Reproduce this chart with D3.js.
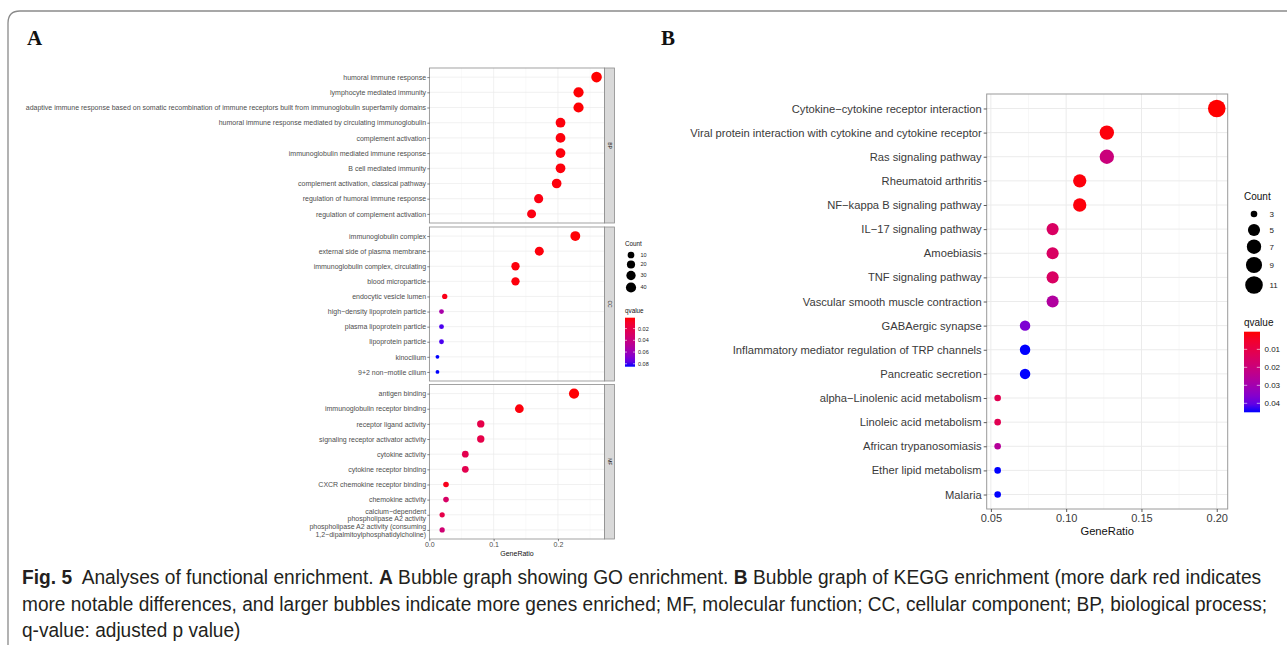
<!DOCTYPE html>
<html>
<head>
<meta charset="utf-8">
<script src="https://cdn.jsdelivr.net/npm/d3@7"></script>
<style>
  body { margin: 0; background: #fff; }
  svg { display: block; }
</style>
</head>
<body>
<svg id="fig" width="1287" height="645"></svg>
<script>
"use strict";

// ---- panel A: GO enrichment, one block per ontology ----
let bp_terms = ["humoral immune response", "lymphocyte mediated immunity",
  "adaptive immune response based on somatic recombination of immune receptors built from immunoglobulin superfamily domains",
  "humoral immune response mediated by circulating immunoglobulin", "complement activation",
  "immunoglobulin mediated immune response", "B cell mediated immunity",
  "complement activation, classical pathway", "regulation of humoral immune response",
  "regulation of complement activation"];
let bp_ratio = [0.260, 0.232, 0.232, 0.204, 0.204, 0.204, 0.204, 0.198, 0.170, 0.159];
let bp_count = [45, 40, 40, 35, 35, 35, 35, 34, 29, 27];
let bp_qvalue = [0.0014, 0.002, 0.002, 0.003, 0.003, 0.003, 0.003, 0.003, 0.004, 0.004];

let cc_terms = ["immunoglobulin complex", "external side of plasma membrane",
  "immunoglobulin complex, circulating", "blood microparticle", "endocytic vesicle lumen",
  "high−density lipoprotein particle", "plasma lipoprotein particle", "lipoprotein particle",
  "kinocilium", "9+2 non−motile cilium"];
let cc_ratio = [0.227, 0.171, 0.134, 0.134, 0.024, 0.019, 0.019, 0.019, 0.0127, 0.0127];
let cc_count = [36, 27, 21, 21, 4, 3, 3, 3, 2, 2];
let cc_qvalue = [0.002, 0.003, 0.003, 0.003, 0.005, 0.055, 0.08, 0.08, 0.085, 0.085];

let mf_terms = ["antigen binding", "immunoglobulin receptor binding", "receptor ligand activity",
  "signaling receptor activator activity", "cytokine activity", "cytokine receptor binding",
  "CXCR chemokine receptor binding", "chemokine activity",
  "calcium−dependent\nphospholipase A2 activity",
  "phospholipase A2 activity (consuming\n1,2−dipalmitoylphosphatidylcholine)"];
let mf_ratio = [0.225, 0.140, 0.080, 0.080, 0.056, 0.056, 0.026, 0.026, 0.020, 0.020];
let mf_count = [40, 25, 14, 14, 10, 10, 5, 5, 4, 4];
let mf_qvalue = [0.002, 0.003, 0.02, 0.02, 0.022, 0.022, 0.006, 0.03, 0.02, 0.035];

let go_count_breaks = [10, 20, 30, 40];
let go_q_breaks = [0.02, 0.04, 0.06, 0.08];
let go_x_ticks = [0, 0.1, 0.2];

// ---- panel B: KEGG enrichment ----
let kegg_terms = ["Cytokine−cytokine receptor interaction",
  "Viral protein interaction with cytokine and cytokine receptor", "Ras signaling pathway",
  "Rheumatoid arthritis", "NF−kappa B signaling pathway", "IL−17 signaling pathway",
  "Amoebiasis", "TNF signaling pathway", "Vascular smooth muscle contraction",
  "GABAergic synapse", "Inflammatory mediator regulation of TRP channels",
  "Pancreatic secretion", "alpha−Linolenic acid metabolism", "Linoleic acid metabolism",
  "African trypanosomiasis", "Ether lipid metabolism", "Malaria"];
let kegg_ratio = [0.200, 0.127, 0.127, 0.109, 0.109, 0.091, 0.091, 0.091, 0.091,
  0.0727, 0.0727, 0.0727, 0.0545, 0.0545, 0.0545, 0.0545, 0.0545];
let kegg_count = [11, 7, 7, 6, 6, 5, 5, 5, 5, 4, 4, 4, 3, 3, 3, 3, 3];
let kegg_qvalue = [0.0002, 0.001, 0.02, 0.001, 0.001, 0.015, 0.015, 0.015, 0.027,
  0.037, 0.045, 0.045, 0.012, 0.012, 0.026, 0.045, 0.045];

let kegg_count_breaks = [3, 5, 7, 9, 11];
let kegg_q_breaks = [0.01, 0.02, 0.03, 0.04];
let kegg_x_ticks = [0.05, 0.10, 0.15, 0.20];

// caption lines, [text, bold]
let caption_lines = [
  [["Fig. 5", true], ["  Analyses of functional enrichment. ", false], ["A", true],
   [" Bubble graph showing GO enrichment. ", false], ["B", true],
   [" Bubble graph of KEGG enrichment (more dark red indicates", false]],
  [["more notable differences, and larger bubbles indicate more genes enriched; MF, molecular function; CC, cellular component; BP, biological process;", false]],
  [["q-value: adjusted p value)", false]]
];

let svg = d3.select("#fig");
let sans = "'Liberation Sans', Arial, sans-serif";
let axis_text = "#4d4d4d";

// outer frame with rounded top-left corner
svg.append("path")
  .attr("d", "M8,700 L8,23 Q8,11 20,11 L1300,11")
  .attr("fill", "none").attr("stroke", "#8a8a8a").attr("stroke-width", 1.3);

svg.append("text").attr("x", 27).attr("y", 45).text("A")
  .attr("font-family", "'Liberation Serif', 'Times New Roman', serif")
  .attr("font-weight", "bold").attr("font-size", 21).attr("fill", "#111");
svg.append("text").attr("x", 661).attr("y", 45).text("B")
  .attr("font-family", "'Liberation Serif', 'Times New Roman', serif")
  .attr("font-weight", "bold").attr("font-size", 21).attr("fill", "#111");

// ggplot style sizes: area mapped onto a radius range
function size_scale(counts, r_min, r_max) {
  let lo = d3.min(counts), hi = d3.max(counts);
  let s = d3.scaleLinear().domain([0, 1]).range([r_min, r_max]);
  return c => s(Math.sqrt((c - lo) / (hi - lo)));
}

function expand(vals) {
  let lo = d3.min(vals), hi = d3.max(vals), p = (hi - lo) * 0.05;
  return [lo - p, hi + p];
}

function draw_legend(g, opts) {
  // Count
  g.append("text").attr("x", opts.x).attr("y", opts.count_title_y).text("Count")
    .attr("font-family", sans).attr("font-size", opts.title_size).attr("fill", "#111");
  opts.count_breaks.forEach((c, i) => {
    let cy = opts.count_y[i];
    g.append("circle").attr("cx", opts.circle_x).attr("cy", cy).attr("r", opts.size(c)).attr("fill", "#000");
    g.append("text").attr("x", opts.label_x).attr("y", cy).attr("dy", "0.35em").text(c)
      .attr("font-family", sans).attr("font-size", opts.label_size).attr("fill", "#222");
  });
  // qvalue colourbar
  g.append("text").attr("x", opts.x).attr("y", opts.q_title_y).text("qvalue")
    .attr("font-family", sans).attr("font-size", opts.title_size).attr("fill", "#111");
  let grad = svg.append("defs").append("linearGradient").attr("id", opts.id)
    .attr("x1", 0).attr("y1", 0).attr("x2", 0).attr("y2", 1);
  d3.range(0, 1.0001, 0.1).forEach(t => {
    let dom = opts.color.domain();
    grad.append("stop").attr("offset", t).attr("stop-color", opts.color(dom[0] + t * (dom[1] - dom[0])));
  });
  let bar_y = d3.scaleLinear().domain(opts.color.domain()).range([opts.bar_top, opts.bar_bottom]);
  g.append("rect").attr("x", opts.x).attr("y", opts.bar_top).attr("width", opts.bar_w)
    .attr("height", opts.bar_bottom - opts.bar_top).attr("fill", "url(#" + opts.id + ")");
  opts.q_breaks.forEach(q => {
    let y = bar_y(q);
    let tl = opts.bar_w / 5;
    g.append("line").attr("x1", opts.x).attr("x2", opts.x + tl).attr("y1", y).attr("y2", y)
      .attr("stroke", "#fff").attr("stroke-width", 0.6);
    g.append("line").attr("x1", opts.x + opts.bar_w - tl).attr("x2", opts.x + opts.bar_w).attr("y1", y).attr("y2", y)
      .attr("stroke", "#fff").attr("stroke-width", 0.6);
    g.append("text").attr("x", opts.x + opts.bar_w + opts.label_gap).attr("y", y).attr("dy", "0.35em")
      .text(opts.q_format(q)).attr("font-family", sans).attr("font-size", opts.label_size).attr("fill", "#222");
  });
}

// ================= panel A =================
let go_panels = [
  { name: "BP", terms: bp_terms, ratio: bp_ratio, count: bp_count, q: bp_qvalue, top: 68, bottom: 223 },
  { name: "CC", terms: cc_terms, ratio: cc_ratio, count: cc_count, q: cc_qvalue, top: 227, bottom: 381 },
  { name: "MF", terms: mf_terms, ratio: mf_ratio, count: mf_count, q: mf_qvalue, top: 384.5, bottom: 539 }
];
let a_left = 429.5, a_right = 604.5, strip_w = 10;
let all_go_ratio = bp_ratio.concat(cc_ratio, mf_ratio);
let all_go_count = bp_count.concat(cc_count, mf_count);
let all_go_q = bp_qvalue.concat(cc_qvalue, mf_qvalue);

let xA = d3.scaleLinear().domain(expand(all_go_ratio)).range([a_left, a_right]);
let rA = size_scale(all_go_count, 1.9, 5.3);
let colA = d3.scaleLinear().domain(d3.extent(all_go_q)).range(["red", "blue"]).interpolate(d3.interpolateLab);

let gA = svg.append("g");
let minorA = [0.05, 0.15, 0.25];

go_panels.forEach(p => {
  let y = d3.scalePoint().domain(p.terms).range([p.top, p.bottom]).padding(0.6);
  let g = gA.append("g");
  g.append("rect").attr("x", a_left).attr("y", p.top).attr("width", a_right - a_left)
    .attr("height", p.bottom - p.top).attr("fill", "#fff");
  minorA.forEach(v => g.append("line").attr("x1", xA(v)).attr("x2", xA(v)).attr("y1", p.top).attr("y2", p.bottom)
    .attr("stroke", "#f2f2f2").attr("stroke-width", 0.4));
  go_x_ticks.forEach(v => g.append("line").attr("x1", xA(v)).attr("x2", xA(v)).attr("y1", p.top).attr("y2", p.bottom)
    .attr("stroke", "#ebebeb").attr("stroke-width", 0.7));
  p.terms.forEach(t => g.append("line").attr("x1", a_left).attr("x2", a_right).attr("y1", y(t)).attr("y2", y(t))
    .attr("stroke", "#ebebeb").attr("stroke-width", 0.7));

  g.selectAll("circle.pt").data(p.terms).join("circle").attr("class", "pt")
    .attr("cx", (t, i) => xA(p.ratio[i])).attr("cy", t => y(t))
    .attr("r", (t, i) => rA(p.count[i])).attr("fill", (t, i) => colA(p.q[i]));

  g.append("rect").attr("x", a_left).attr("y", p.top).attr("width", a_right - a_left)
    .attr("height", p.bottom - p.top).attr("fill", "none").attr("stroke", "#8c8c8c").attr("stroke-width", 0.8);
  // facet strip
  g.append("rect").attr("x", a_right).attr("y", p.top).attr("width", strip_w)
    .attr("height", p.bottom - p.top).attr("fill", "#d9d9d9").attr("stroke", "#8c8c8c").attr("stroke-width", 0.8);
  g.append("text").attr("transform", "translate(" + (a_right + strip_w / 2) + "," + ((p.top + p.bottom) / 2) + ") rotate(90)")
    .attr("text-anchor", "middle").attr("dy", "0.35em").text(p.name)
    .attr("font-family", sans).attr("font-size", 5).attr("fill", "#1a1a1a");

  // y axis with ticks and (possibly two-line) labels
  let ax = g.append("g").attr("transform", "translate(" + a_left + ",0)")
    .call(d3.axisLeft(y).tickSize(2.2).tickPadding(1.2));
  ax.select(".domain").remove();
  ax.selectAll(".tick line").attr("stroke", "#333").attr("stroke-width", 0.6);
  ax.selectAll(".tick text").attr("font-family", sans).attr("font-size", 7).attr("fill", axis_text)
    .each(function (t) {
      let lines = t.split("\n");
      if (lines.length > 1) {
        let el = d3.select(this).text(null).attr("dy", null);
        lines.forEach((ln, k) => el.append("tspan").attr("x", -3.4)
          .attr("y", (k - (lines.length - 1) / 2) * 7.5).attr("dy", "0.35em").text(ln));
      }
    });
});

// x axis under the MF facet
let axA = gA.append("g").attr("transform", "translate(0," + go_panels[2].bottom + ")")
  .call(d3.axisBottom(xA).tickValues(go_x_ticks).tickFormat(d3.format(".1f")).tickSize(2.2).tickPadding(1.2));
axA.select(".domain").remove();
axA.selectAll(".tick line").attr("stroke", "#333").attr("stroke-width", 0.6);
axA.selectAll(".tick text").attr("font-family", sans).attr("font-size", 7).attr("fill", axis_text);
gA.append("text").attr("x", (a_left + a_right) / 2).attr("y", 556).attr("text-anchor", "middle")
  .text("GeneRatio").attr("font-family", sans).attr("font-size", 7).attr("fill", "#111");

draw_legend(gA, {
  id: "gradA", x: 625, count_title_y: 246, title_size: 6.3, label_size: 5.5,
  count_breaks: go_count_breaks, count_y: [255, 264.5, 275.5, 287.5], circle_x: 631, label_x: 640.5, size: rA,
  q_title_y: 312.5, color: colA, bar_top: 317.7, bar_bottom: 366.7, bar_w: 10, label_gap: 3,
  q_breaks: go_q_breaks, q_format: d3.format(".2f")
});

// ================= panel B =================
let b_left = 986.7, b_right = 1227.7, b_top = 94, b_bottom = 509;
let xB = d3.scaleLinear().domain(expand(kegg_ratio)).range([b_left, b_right]);
let yB = d3.scalePoint().domain(kegg_terms).range([b_top, b_bottom]).padding(0.6);
let rB = size_scale(kegg_count, 3.3, 8.8);
let colB = d3.scaleLinear().domain(d3.extent(kegg_qvalue)).range(["red", "blue"]).interpolate(d3.interpolateLab);

let gB = svg.append("g");
gB.append("rect").attr("x", b_left).attr("y", b_top).attr("width", b_right - b_left)
  .attr("height", b_bottom - b_top).attr("fill", "#fff");
[0.075, 0.125, 0.175].forEach(v => gB.append("line").attr("x1", xB(v)).attr("x2", xB(v))
  .attr("y1", b_top).attr("y2", b_bottom).attr("stroke", "#f2f2f2").attr("stroke-width", 0.6));
kegg_x_ticks.forEach(v => gB.append("line").attr("x1", xB(v)).attr("x2", xB(v))
  .attr("y1", b_top).attr("y2", b_bottom).attr("stroke", "#ebebeb").attr("stroke-width", 1));
kegg_terms.forEach(t => gB.append("line").attr("x1", b_left).attr("x2", b_right)
  .attr("y1", yB(t)).attr("y2", yB(t)).attr("stroke", "#ebebeb").attr("stroke-width", 1));

gB.selectAll("circle.pt").data(kegg_terms).join("circle").attr("class", "pt")
  .attr("cx", (t, i) => xB(kegg_ratio[i])).attr("cy", t => yB(t))
  .attr("r", (t, i) => rB(kegg_count[i])).attr("fill", (t, i) => colB(kegg_qvalue[i]));

gB.append("rect").attr("x", b_left).attr("y", b_top).attr("width", b_right - b_left)
  .attr("height", b_bottom - b_top).attr("fill", "none").attr("stroke", "#9a9a9a").attr("stroke-width", 1);

let ayB = gB.append("g").attr("transform", "translate(" + b_left + ",0)")
  .call(d3.axisLeft(yB).tickSize(3).tickPadding(2));
ayB.select(".domain").remove();
ayB.selectAll(".tick line").attr("stroke", "#333").attr("stroke-width", 0.8);
ayB.selectAll(".tick text").attr("font-family", sans).attr("font-size", 11.2).attr("fill", "#3a3a3a");

let axB = gB.append("g").attr("transform", "translate(0," + b_bottom + ")")
  .call(d3.axisBottom(xB).tickValues(kegg_x_ticks).tickFormat(d3.format(".2f")).tickSize(3).tickPadding(2));
axB.select(".domain").remove();
axB.selectAll(".tick line").attr("stroke", "#333").attr("stroke-width", 0.8);
axB.selectAll(".tick text").attr("font-family", sans).attr("font-size", 11).attr("fill", "#3a3a3a");
gB.append("text").attr("x", (b_left + b_right) / 2).attr("y", 535).attr("text-anchor", "middle")
  .text("GeneRatio").attr("font-family", sans).attr("font-size", 11.2).attr("fill", "#111");

draw_legend(gB, {
  id: "gradB", x: 1244, count_title_y: 200, title_size: 10, label_size: 8,
  count_breaks: kegg_count_breaks, count_y: [214, 230, 246.7, 265, 285], circle_x: 1254, label_x: 1269.5, size: rB,
  q_title_y: 325.5, color: colB, bar_top: 331.7, bar_bottom: 412.3, bar_w: 16, label_gap: 4.5,
  q_breaks: kegg_q_breaks, q_format: d3.format(".2f")
});

// ================= caption =================
let cap_baselines = [584, 610.5, 637];
let cap_widths = [1240, 1246, null];
let cap_scale = 1;
caption_lines.forEach((segs, i) => {
  let t = svg.append("text").attr("x", 0).attr("y", 0)
    .attr("font-family", "'Liberation Sans Narrow', 'Liberation Sans', Arial, sans-serif")
    .attr("font-size", 19.5).attr("fill", "#231f20").style("white-space", "pre");
  segs.forEach(s => t.append("tspan").text(s[0]).attr("font-weight", s[1] ? "bold" : null));
  let w = t.node().getComputedTextLength();
  if (cap_widths[i]) cap_scale = cap_widths[i] / w;
  t.attr("transform", "translate(22," + cap_baselines[i] + ") scale(" + cap_scale + ",1)");
});
</script>
</body>
</html>
